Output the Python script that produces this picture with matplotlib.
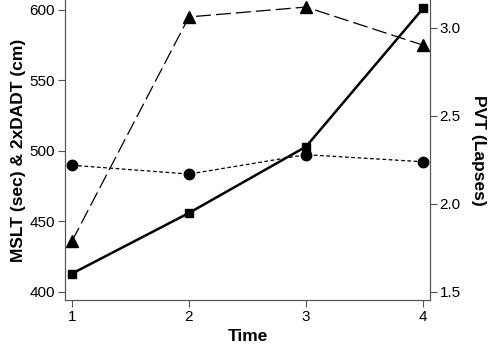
import matplotlib

matplotlib.use("Agg")
import matplotlib.pyplot as plt

plt.rcParams["font.family"] = ["Liberation Sans", "DejaVu Sans"]

# Data
time = [1, 2, 3, 4]
series_square = [413, 456, 503, 601]      # left axis
series_triangle = [436, 595, 602, 575]    # left axis
pvt_lapses = [2.22, 2.17, 2.28, 2.24]     # right axis

fig = plt.figure(figsize=(4.92, 3.48), dpi=100)
ax = fig.add_axes([0.132, 0.138, 0.742, 0.862])
ax2 = ax.twinx()

ax.plot(time, series_square, color="black", lw=1.8, marker="s", ms=6)
ax.plot(time, series_triangle, color="black", lw=0.9, marker="^", ms=8,
        dashes=(12, 4))
ax2.plot(time, pvt_lapses, color="black", lw=0.9, marker="o", ms=7.5,
         dashes=(3, 2))

ax.set_xlim(0.94, 4.06)
ax.set_ylim(394.3, 607)
ax2.set_ylim(1.4545, 3.159)
ax.set_xticks(time)
ax.set_yticks([400, 450, 500, 550, 600])
ax2.set_yticks([1.5, 2.0, 2.5, 3.0])
ax2.set_yticklabels(["1.5", "2.0", "2.5", "3.0"])

for a in (ax, ax2):
    a.spines["top"].set_visible(False)
    for s in a.spines.values():
        s.set_color("#555555")
    a.tick_params(direction="out", length=5, width=0.8, color="#555555",
                  labelsize=11, pad=2)

ax.set_xlabel("Time", fontsize=12.5, fontweight="bold", labelpad=4)
ax.set_ylabel("MSLT (sec) & 2xDADT (cm)", fontsize=12.5, fontweight="bold",
              labelpad=3)
ax2.set_ylabel("PVT (Lapses)", fontsize=12.5, fontweight="bold",
               rotation=270, labelpad=18)

fig.savefig("out.png", dpi=100)
